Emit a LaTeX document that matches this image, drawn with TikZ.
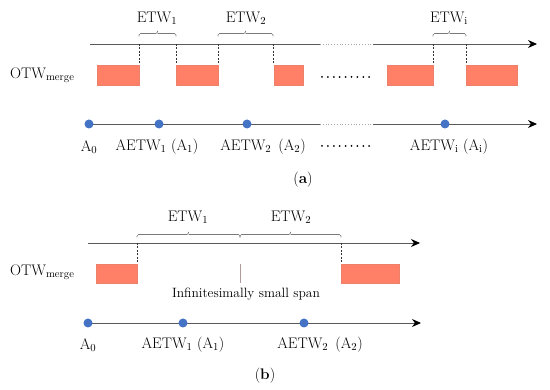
\documentclass[tikz,border=0pt]{standalone}
\usetikzlibrary{arrows.meta}
\definecolor{salmonc}{HTML}{FF8066}
\definecolor{dotblue}{HTML}{4472C4}
\definecolor{axisgray}{HTML}{595959}
\definecolor{spangray}{HTML}{B09A9A}
\newcommand{\mybrace}[3]{%
  \draw[bracestyle] ({#1},{#3}) -- ({#1},{#3-3}) -- ({(#1+#2)/2},{#3-3}) -- ({(#1+#2)/2},{#3-5.5})
    ({(#1+#2)/2},{#3-3}) -- ({#2},{#3-3}) -- ({#2},{#3});}
\begin{document}
\begin{tikzpicture}[x=1pt,y=-1pt,
  font=\fontsize{15.3}{17}\selectfont,
  axis/.style={draw=axisgray, line width=0.8pt},
  arrowtip/.style={-{Stealth[length=9pt,width=8pt,black]}},
  gapline/.style={draw=axisgray!55, dotted, line width=0.8pt},
  guide/.style={draw=black!80, dash pattern=on 2pt off 1.5pt, line width=0.5pt},
  block/.style={fill=salmonc, draw=salmonc!85!gray, line width=0.4pt},
  bracestyle/.style={draw=axisgray!80, line width=0.6pt, rounded corners=1.5pt},
  pt/.style={circle, fill=dotblue, minimum size=9pt, inner sep=0pt},
  lbl/.style={inner sep=1pt},
  dotrow/.style={draw=black, line width=2pt, line cap=round, dash pattern=on 0pt off 5.9pt},
  ]
\useasboundingbox (0,0) rectangle (550,390);

% ================= panel (a) =================
\coordinate (a1s) at (90,44);
\coordinate (a1g1) at (320,44);
\coordinate (a1g2) at (373,44);
\coordinate (a1e) at (537,44);
\draw[axis] (a1s) -- (a1g1);
\draw[gapline] (a1g1) -- (a1g2);
\draw[axis,arrowtip] (a1g2) -- (a1e);

\mybrace{139}{176}{36.5}
\mybrace{218}{273}{36.5}
\mybrace{433}{466}{36.5}
\node[lbl] (etw1a) at (157,18) {ETW\textsubscript{1}};
\node[lbl] (etw2a) at (246,18) {ETW\textsubscript{2}};
\node[lbl] (etwia) at (449,18) {ETW\textsubscript{i}};

\foreach \x in {139,176,218,273,433,466}
  \draw[guide] (\x,44) -- (\x,65);

\path[block] (97,65) rectangle (139,85);
\path[block] (176,65) rectangle (218,85);
\path[block] (274,65) rectangle (303,85);
\path[block] (387,65) rectangle (433,85);
\path[block] (466,65) rectangle (517,85);

\coordinate (drA1) at (322,77);
\coordinate (drA2) at (375,77);
\draw[dotrow] (drA1) -- (drA2);

\node[lbl, anchor=west] (otwa) at (9,75) {OTW\textsubscript{merge}};

\coordinate (a2s) at (89,124);
\coordinate (a2g1) at (320,124);
\coordinate (a2g2) at (373,124);
\coordinate (a2e) at (537,124);
\draw[axis] (a2s) -- (a2g1);
\draw[gapline] (a2g1) -- (a2g2);
\draw[axis,arrowtip] (a2g2) -- (a2e);

\node[pt] (pa0) at (89,124) {};
\node[pt] (pa1) at (159,124) {};
\node[pt] (pa2) at (247,124) {};
\node[pt] (pai) at (445,124) {};

\node[lbl] (la0) at (89,147) {A\textsubscript{0}};
\node[lbl] (la1) at (157,147) {AETW\textsubscript{1} (A\textsubscript{1})};
\node[lbl] (la2) at (263,147) {AETW\textsubscript{2}\, (A\textsubscript{2})};
\node[lbl] (lai) at (449,147) {AETW\textsubscript{i} (A\textsubscript{i})};
\coordinate (drB1) at (322,146);
\coordinate (drB2) at (375,146);
\draw[dotrow] (drB1) -- (drB2);

\node[lbl] (capa) at (303,180) {(\textbf{a})};

% ================= panel (b) =================
\coordinate (b1s) at (88,243);
\coordinate (b1e) at (420,243);
\draw[axis,arrowtip] (b1s) -- (b1e);

\mybrace{137}{240}{237.5}
\mybrace{240}{341}{237.5}
\node[lbl] (etw1b) at (188,217) {ETW\textsubscript{1}};
\node[lbl] (etw2b) at (291,217) {ETW\textsubscript{2}};

\draw[guide] (137,243) -- (137,264);
\draw[guide] (341,243) -- (341,264);
\path[block] (96,264) rectangle (137,283);
\path[block] (341,264) rectangle (399,283);

\coordinate (spt) at (240,264);
\coordinate (spb) at (240,283);
\draw[draw=spangray, line width=0.7pt] (spt) -- (spb);
\node[lbl, font=\fontsize{13.5}{15}\selectfont] (span) at (246,294) {Infinitesimally small span};

\node[lbl, anchor=west] (otwb) at (9,272) {OTW\textsubscript{merge}};

\coordinate (b2s) at (88,323);
\coordinate (b2e) at (421,323);
\draw[axis,arrowtip] (b2s) -- (b2e);
\node[pt] (pb0) at (88,323) {};
\node[pt] (pb1) at (183,323) {};
\node[pt] (pb2) at (304,323) {};

\node[lbl] (lb0) at (88,345) {A\textsubscript{0}};
\node[lbl] (lb1) at (183,345) {AETW\textsubscript{1} (A\textsubscript{1})};
\node[lbl] (lb2) at (320,345) {AETW\textsubscript{2}\, (A\textsubscript{2})};

\node[lbl] (capb) at (265,376) {(\textbf{b})};
\end{tikzpicture}
\end{document}
